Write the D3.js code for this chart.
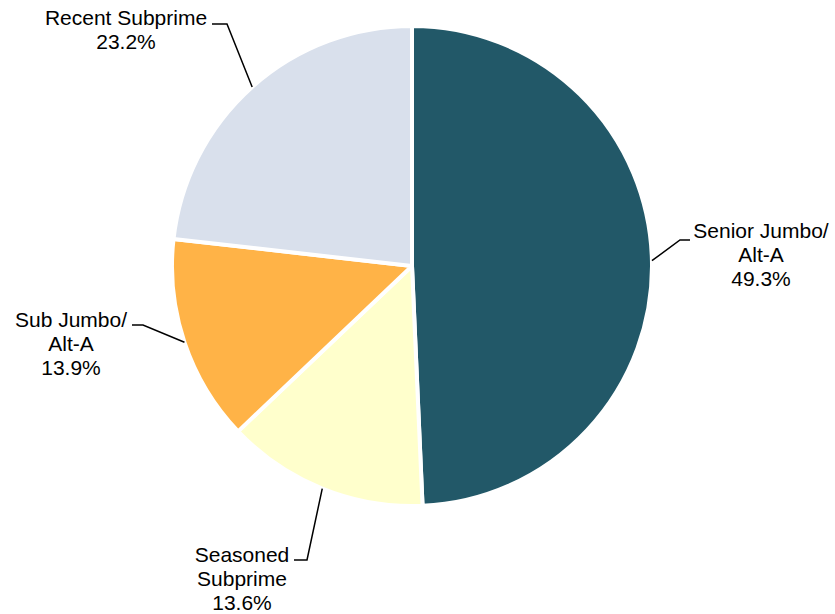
<!DOCTYPE html>
<html lang="en">
<head>
  <meta charset="UTF-8">
  <title>pie</title>
  <script src="https://d3js.org/d3.v7.min.js"></script>
  <style>
    body { margin: 0; background: #fff; }
    text { font-family: "Liberation Sans", Arial, sans-serif; font-size: 21px; fill: #000; }
  </style>
</head>
<body>
<script>
  const WIDTH = 835;
  const HEIGHT = 614;

  // data, clockwise from 12 o'clock
  const categories = ['Senior Jumbo/\nAlt-A', 'Seasoned\nSubprime', 'Sub Jumbo/\nAlt-A', 'Recent Subprime'];
  const shares = [49.3, 13.6, 13.9, 23.2];
  const colors = ['#225868', '#ffffcc', '#ffb347', '#d9e0ec'];

  // label layout: elbow of the leader, end of the leader, text centre, first baseline
  const elbows = [[680, 240], [307, 560], [143, 325], [227, 24]];
  const leaderEnds = [[690, 240], [294, 560], [132, 325], [212, 24]];
  const textAt = [[761, 238], [242, 562], [71, 327], [126, 25]];

  const cx = 412, cy = 266, R = 240;

  const svg = d3.select('body')
    .append('svg')
    .attr('width', WIDTH)
    .attr('height', HEIGHT);

  const pie = d3.pie().sort(null).value(d => d)(shares);
  const arc = d3.arc().innerRadius(0).outerRadius(R);

  const g = svg.append('g').attr('transform', `translate(${cx}, ${cy})`);

  g.selectAll('path')
    .data(pie)
    .enter()
    .append('path')
    .attr('d', arc)
    .attr('fill', (d, i) => colors[i])
    .attr('stroke', '#fff')
    .attr('stroke-width', 4)
    .attr('stroke-linejoin', 'round');

  // leader lines, starting on the rim at each slice's mid angle
  const rim = d => {
    const a = (d.startAngle + d.endAngle) / 2;
    return [cx + R * Math.sin(a), cy - R * Math.cos(a)];
  };

  svg.selectAll('polyline')
    .data(pie)
    .enter()
    .append('polyline')
    .attr('points', (d, i) => [rim(d), elbows[i], leaderEnds[i]].map(p => p.join(',')).join(' '))
    .attr('fill', 'none')
    .attr('stroke', '#000')
    .attr('stroke-width', 1.5);

  const labels = svg.selectAll('text.lbl')
    .data(pie)
    .enter()
    .append('text')
    .attr('class', 'lbl')
    .attr('text-anchor', 'middle')
    .attr('x', (d, i) => textAt[i][0])
    .attr('y', (d, i) => textAt[i][1]);

  labels.each(function (d, i) {
    const lines = categories[i].split('\n').concat([d3.format('.1f')(shares[i]) + '%']);
    d3.select(this).selectAll('tspan')
      .data(lines)
      .enter()
      .append('tspan')
      .attr('x', textAt[i][0])
      .attr('dy', (t, k) => k === 0 ? 0 : 23.8)
      .text(t => t);
  });
</script>
</body>
</html>
